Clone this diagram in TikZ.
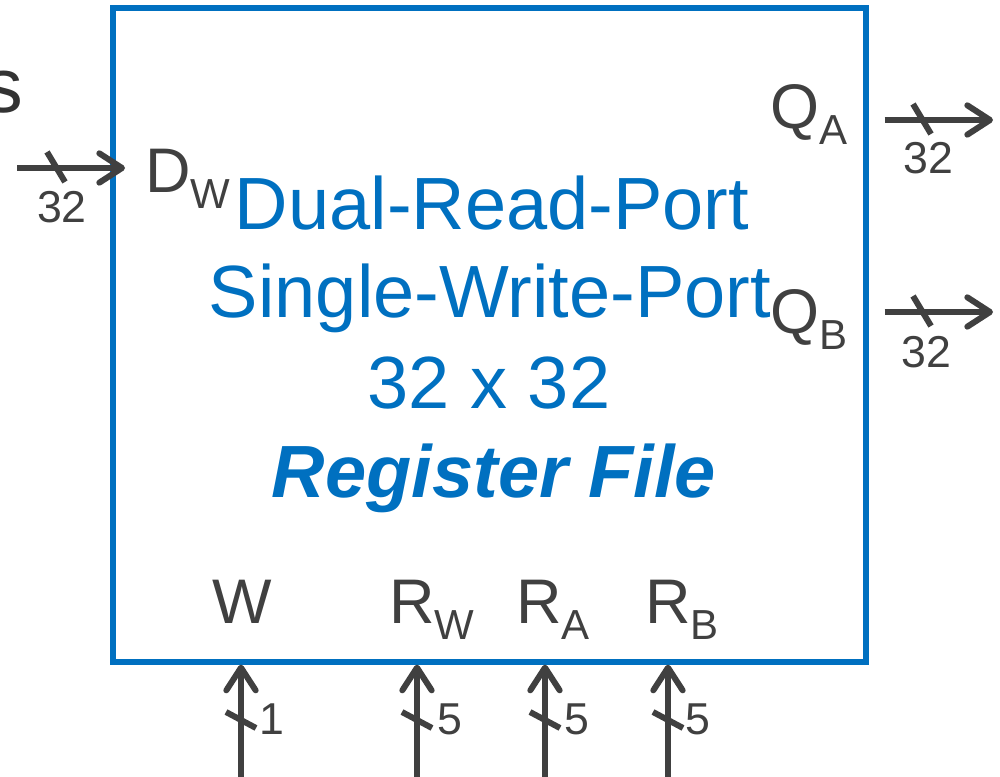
\documentclass[tikz,border=0pt]{standalone}
\usepackage{fontspec}
\setmainfont{Liberation Sans}
\usetikzlibrary{arrows.meta}
\definecolor{rfblue}{HTML}{0070C0}
\definecolor{wire}{HTML}{404040}
\definecolor{dark}{HTML}{333333}
\newcommand\sbs[1]{\raisebox{-12pt}{\fontsize{31.5}{31.5}\selectfont #1}}
\begin{document}
\begin{tikzpicture}[x=0.75pt,y=-0.75pt,
  bus/.style={draw=wire, line width=4.5pt, -{Straight Barb[length=17pt,width=22pt,round]}},
  tick/.style={draw=wire, line width=4.5pt},
  lbl/.style={text=wire, inner sep=0pt, font=\fontsize{47.25}{47.25}\selectfont, anchor=base west},
  num/.style={text=wire, inner sep=0pt, font=\fontsize{33.5}{33.5}\selectfont},
  title/.style={text=rfblue, inner sep=0pt, font=\fontsize{55.5}{55.5}\selectfont, anchor=base},
  regbox/.style={draw=rfblue, line width=4pt, minimum width=564.75pt, minimum height=490.5pt, inner sep=0pt}]
\useasboundingbox (0,0) rectangle (1000,777);

% register file box
\node[regbox] (rf) at (489.5,335) {};

% partial text at the top left
\node[text=dark, inner sep=0pt, anchor=base west, font=\fontsize{58}{58}\selectfont] (s) at (-16,113) {s};

% title
\node[title] (t1) at (492,230) {Dual-Read-Port};
\node[title] (t2) at (490,318) {Single-Write-Port};
\node[title] (t3) at (489,408) {32 x 32};
\node[title, font=\fontsize{55.5}{55.5}\selectfont\bfseries\itshape] (t4) at (494,497) {Register File};

% port labels
\node[lbl] (dw) at (145,193) {D\sbs{W}};
\node[lbl] (qa) at (770,129) {Q\sbs{A}};
\node[lbl] (qb) at (770,334) {Q\sbs{B}};
\node[lbl] (w)  at (212,623) {W};
\node[lbl] (rw) at (389,623) {R\sbs{W}};
\node[lbl] (ra) at (516,623) {R\sbs{A}};
\node[lbl] (rb) at (645,623) {R\sbs{B}};

% free ends
\coordinate (dwin) at (17,168);
\coordinate (qaout) at (993,120);
\coordinate (qbout) at (993,312);
\coordinate (win) at (241,777);
\coordinate (rwin) at (417,777);
\coordinate (rain) at (545,777);
\coordinate (rbin) at (668,777);

% buses
\draw[bus, shorten >=-11pt] (dwin) -- (dwin -| rf.west);
\draw[bus, shorten <=12pt] (qaout -| rf.east) -- (qaout);
\draw[bus, shorten <=12pt] (qbout -| rf.east) -- (qbout);
\draw[bus] (win) -- (win |- rf.south);
\draw[bus] (rwin) -- (rwin |- rf.south);
\draw[bus] (rain) -- (rain |- rf.south);
\draw[bus] (rbin) -- (rbin |- rf.south);

% bus-width ticks
\coordinate (tdw) at (56,167);
\coordinate (tqa) at (922,119);
\coordinate (tqb) at (922,311);
\coordinate (tw) at (241,720);
\coordinate (trw) at (417,720);
\coordinate (tra) at (545,720);
\coordinate (trb) at (668,720);
\foreach \c in {tdw,tqa,tqb}{
  \draw[tick] ([shift={(-9,-15)}]\c) -- ([shift={(9,15)}]\c);
}
\foreach \c in {tw,trw,tra,trb}{
  \draw[tick] ([shift={(-15,-8)}]\c) -- ([shift={(15,8)}]\c);
}

% bus widths
\node[num] (ndw) at (62,207) {32};
\node[num] (nqa) at (928,158) {32};
\node[num] (nqb) at (926,352) {32};
\node[num] (nw)  at (272,719) {1};
\node[num] (nrw) at (450,719) {5};
\node[num] (nra) at (577,719) {5};
\node[num] (nrb) at (698,719) {5};
\end{tikzpicture}
\end{document}
